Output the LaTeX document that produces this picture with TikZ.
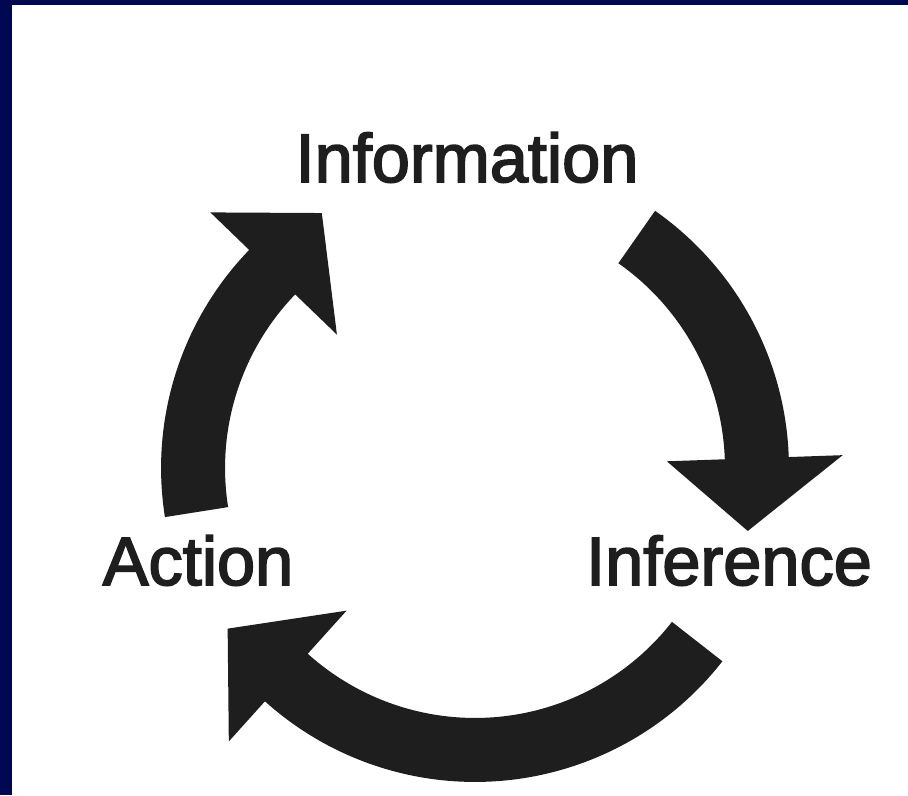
\documentclass[tikz,border=0pt]{standalone}
\usepackage{fontspec}
\setmainfont{Liberation Sans}
\usetikzlibrary{calc}
\definecolor{NavyFrame}{RGB}{0, 8, 82}
\definecolor{ArrowDark}{RGB}{30, 30, 30}

\newcommand{\bendout}{6.28cm}
\newcommand{\bendin}{5.0cm}
\newcommand{\barbin}{3.84cm}
\newcommand{\barbout}{7.36cm}
% #1 tail angle, #2 head base angle, #3 tip angle, #4 tip radius
\newcommand{\cyclebend}[4]{%
  \fill[bendarrow] ($(hub)+(#1:\bendout)$) arc[start angle=#1, end angle=#2, radius=\bendout]
    -- ($(hub)+(#2:\barbout)$) -- ($(hub)+(#3:#4)$) -- ($(hub)+(#2:\barbin)$)
    -- ($(hub)+(#2:\bendin)$) arc[start angle=#2, end angle=#1, radius=\bendin] -- cycle;}

\begin{document}
\begin{tikzpicture}[x=0.02cm, y=0.02cm]
\tikzstyle{cyclelabel} = [font=\fontsize{39}{39}\selectfont\addfontfeature{FakeBold=2.5},
    anchor=base, inner sep=0pt, text=ArrowDark]
\tikzstyle{bendarrow} = [fill=ArrowDark, draw=none]

\useasboundingbox (0,0) rectangle (908,795);
\fill[white] (0,0) rectangle (908,795);
\fill[NavyFrame] (0,790) rectangle (908,795);
\fill[NavyFrame] (0,0) rectangle (12,795);

\coordinate (hub) at (475,327);
\node [cyclelabel] (info) at (467,613) {Information};
\node [cyclelabel] (action) at (198,210) {Action};
\node [cyclelabel] (infer) at (729,210) {Inference};
%
\cyclebend{189}{136}{121}{5.95cm}
\cyclebend{55}{2}{-13}{5.6cm}
\cyclebend{-38}{-132}{-147}{5.9cm}

\end{tikzpicture}
\end{document}
